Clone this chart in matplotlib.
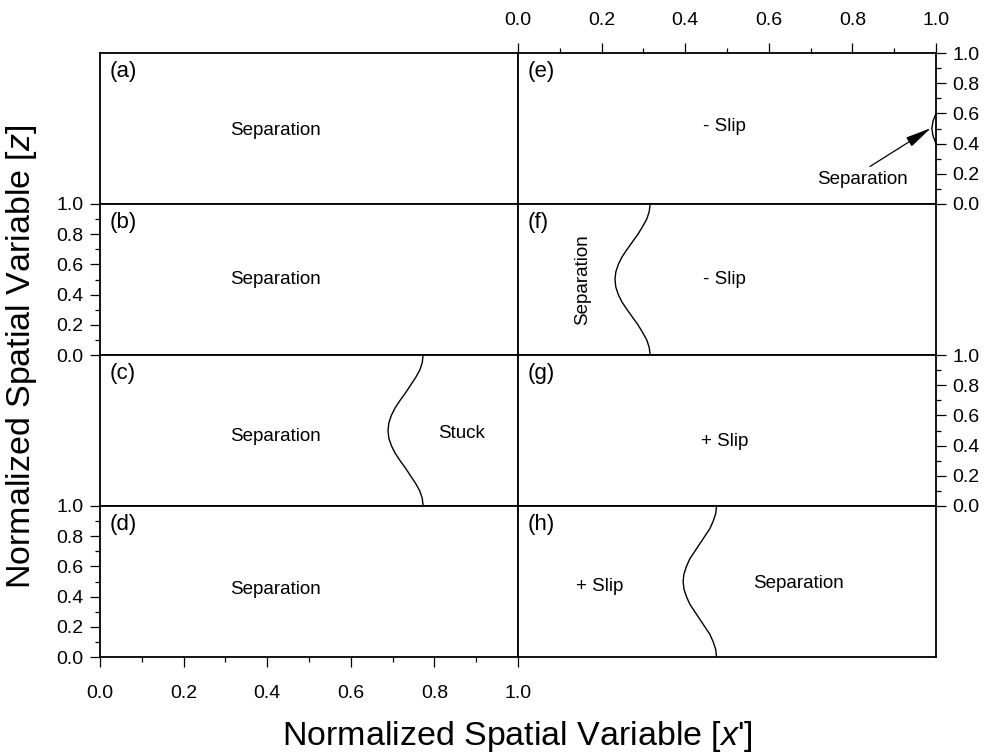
import matplotlib
matplotlib.use("Agg")

import matplotlib.pyplot as plt
from matplotlib.ticker import MultipleLocator

plt.rcParams["font.family"] = ["Liberation Sans", "DejaVu Sans"]
plt.rcParams["mathtext.fontset"] = "custom"
plt.rcParams["mathtext.rm"] = "Liberation Sans"
plt.rcParams["mathtext.it"] = "Liberation Sans:italic"

# Boundary curves between contact regions (x' position vs z)
z_curve = [0.00, 0.05, 0.10, 0.15, 0.20, 0.25, 0.30, 0.35, 0.40, 0.45, 0.50,
           0.55, 0.60, 0.65, 0.70, 0.75, 0.80, 0.85, 0.90, 0.95, 1.00]
x_c = [0.773, 0.771, 0.765, 0.755, 0.743, 0.731, 0.718, 0.706, 0.697, 0.691, 0.689,
       0.691, 0.697, 0.706, 0.718, 0.731, 0.743, 0.755, 0.765, 0.771, 0.773]
x_f = [0.316, 0.314, 0.308, 0.298, 0.287, 0.274, 0.261, 0.249, 0.240, 0.234, 0.232,
       0.234, 0.240, 0.249, 0.261, 0.274, 0.287, 0.298, 0.308, 0.314, 0.316]
x_h = [0.475, 0.473, 0.467, 0.459, 0.447, 0.435, 0.423, 0.411, 0.403, 0.397, 0.395,
       0.397, 0.403, 0.411, 0.423, 0.435, 0.447, 0.459, 0.467, 0.473, 0.475]
z_e = [0.40, 0.45, 0.50, 0.55, 0.60]
x_e = [1.000, 0.993, 0.990, 0.993, 1.000]

panel_labels = ["(a)", "(b)", "(c)", "(d)", "(e)", "(f)", "(g)", "(h)"]
major_ticks = [0.0, 0.2, 0.4, 0.6, 0.8, 1.0]

W, H = 991, 754
fig = plt.figure(figsize=(W / 100, H / 100), dpi=100)

left_px = [100, 518]
top_px = [53, 204, 355, 506]
panel_w = 418
panel_h = 151

axes = {}
for col in range(2):
    for row in range(4):
        x0 = left_px[col] / W
        y0 = 1 - (top_px[row] + panel_h) / H
        ax = fig.add_axes([x0, y0, panel_w / W, panel_h / H])
        ax.set_xlim(0, 1)
        ax.set_ylim(0, 1)
        for sp in ax.spines.values():
            sp.set_linewidth(1.3)
        ax.tick_params(which="both", left=False, right=False, top=False, bottom=False,
                       labelleft=False, labelright=False, labeltop=False, labelbottom=False)
        ax.xaxis.set_major_locator(MultipleLocator(0.2))
        ax.xaxis.set_minor_locator(MultipleLocator(0.1))
        ax.yaxis.set_major_locator(MultipleLocator(0.2))
        ax.yaxis.set_minor_locator(MultipleLocator(0.1))
        ax.tick_params(which="major", direction="out", length=7, width=0.9, labelsize=14)
        ax.tick_params(which="minor", direction="out", length=3.5, width=0.9)
        ax.text(0.024, 0.945, panel_labels[col * 4 + row], transform=ax.transAxes,
                ha="left", va="top", fontsize=16)
        axes[panel_labels[col * 4 + row]] = ax


def fmt(ax_obj):
    ax_obj.set_xticks(major_ticks)
    ax_obj.set_yticks(major_ticks)
    ax_obj.set_xticklabels([f"{v:.1f}" for v in major_ticks])
    ax_obj.set_yticklabels([f"{v:.1f}" for v in major_ticks])


for key in ["(b)", "(d)"]:
    fmt(axes[key])
    axes[key].tick_params(which="both", left=True, labelleft=True)
    axes[key].tick_params(which="major", pad=5)

axes["(d)"].tick_params(which="both", bottom=True, labelbottom=True)
axes["(d)"].tick_params(axis="x", which="major", pad=13)

for key in ["(e)", "(g)"]:
    fmt(axes[key])
    axes[key].tick_params(which="both", right=True, labelright=True)
    axes[key].tick_params(axis="y", which="major", pad=5)

axes["(e)"].tick_params(which="both", top=True, labeltop=True)
axes["(e)"].tick_params(axis="x", which="major", pad=10)

txt = dict(ha="center", va="center", fontsize=13.5)

# left column
for key, yy in [("(a)", 0.49), ("(b)", 0.497), ("(c)", 0.457), ("(d)", 0.45)]:
    axes[key].text(0.421, yy, "Separation", transform=axes[key].transAxes, **txt)
axes["(c)"].text(0.866, 0.477, "Stuck", transform=axes["(c)"].transAxes, **txt)
axes["(c)"].plot(x_c, z_curve, color="black", lw=1.0)

# right column
axes["(e)"].text(0.495, 0.51, "- Slip", transform=axes["(e)"].transAxes, **txt)
axes["(e)"].plot(x_e, z_e, color="black", lw=1.0, clip_on=False)
axes["(e)"].annotate("Separation", xy=(0.988, 0.503), xytext=(0.823, 0.159),
                     ha="center", va="center", fontsize=13.5,
                     arrowprops=dict(arrowstyle="-|>,head_length=1.0,head_width=0.2",
                                     color="black", lw=0.9, relpos=(0.5, 1.0),
                                     mutation_scale=16, shrinkA=3, shrinkB=0))

axes["(f)"].text(0.495, 0.497, "- Slip", transform=axes["(f)"].transAxes, **txt)
axes["(f)"].text(0.155, 0.5, "Separation", transform=axes["(f)"].transAxes,
                 rotation=90, **txt)
axes["(f)"].plot(x_f, z_curve, color="black", lw=1.0)

axes["(g)"].text(0.495, 0.424, "+ Slip", transform=axes["(g)"].transAxes, **txt)

axes["(h)"].text(0.196, 0.47, "+ Slip", transform=axes["(h)"].transAxes, **txt)
axes["(h)"].text(0.672, 0.49, "Separation", transform=axes["(h)"].transAxes, **txt)
axes["(h)"].plot(x_h, z_curve, color="black", lw=1.0)

fig.text(22 / W, 1 - 357 / H, "Normalized Spatial Variable [$z$]", rotation=90,
         ha="center", va="center", fontsize=24.5)
fig.text(517 / W, 1 - 736 / H, "Normalized Spatial Variable [$x$']",
         ha="center", va="center", fontsize=24.5)

fig.savefig("out.png", dpi=100)
